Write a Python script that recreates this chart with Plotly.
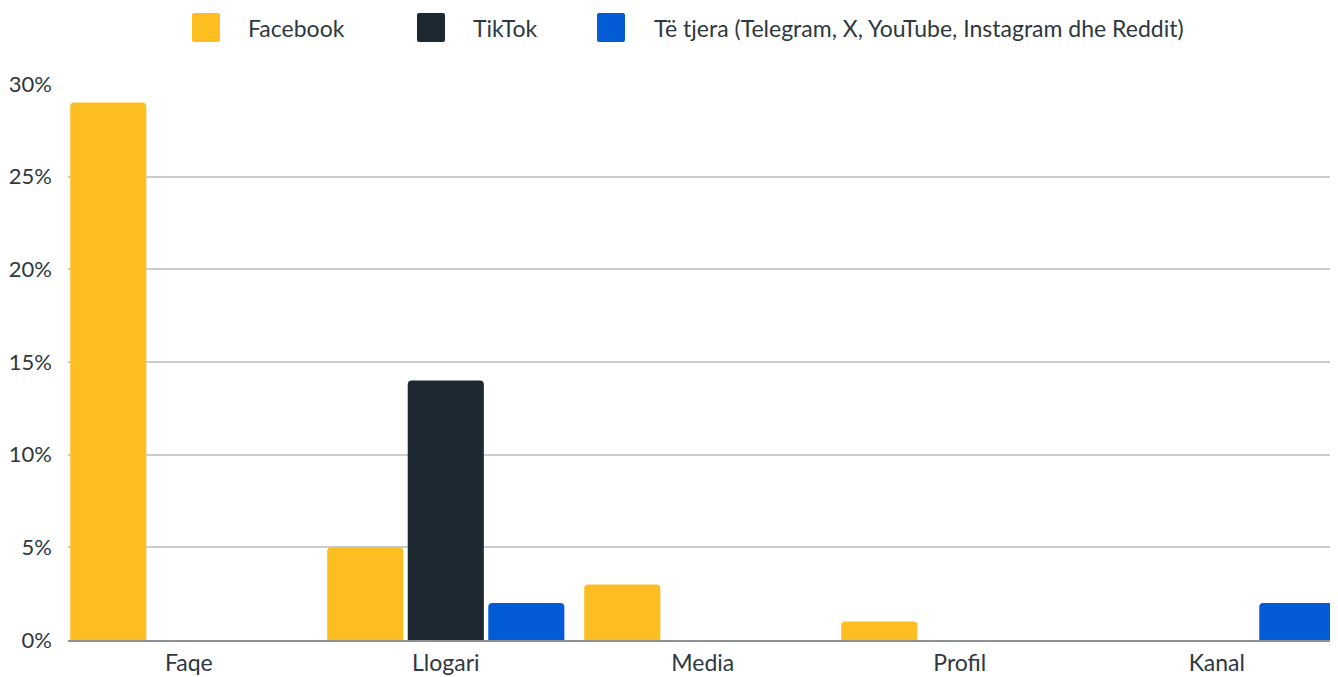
import plotly.graph_objects as go

categories = ["Faqe", "Llogari", "Media", "Profil", "Kanal"]
facebook = [29, 5, 3, 1, 0]
tiktok = [0, 14, 0, 0, 0]
others = [0, 2, 0, 0, 2]
series_names = ["Facebook", "TikTok", "Të tjera (Telegram, X, YouTube, Instagram dhe Reddit)"]
colors = ["#FDBE22", "#1E2830", "#035BD5"]
y_ticks = [0, 5, 10, 15, 20, 25, 30]
y_tick_labels = [f"{v}%" for v in y_ticks]

FONT = "Lato"
TXT = "#2E3840"

fig = go.Figure()
for name, vals, col in zip(series_names, [facebook, tiktok, others], colors):
    fig.add_trace(go.Bar(
        x=categories, y=vals, name=name,
        marker=dict(color=col, cornerradius=4, line=dict(width=0)),
        showlegend=False,
    ))

# page has an 8px body margin
OFF = 8
W, H = 1330, 669
ml, mr, mt, mb = 60, 3, 76, 37
pw, ph = W - ml - mr, H - mt - mb

def px(x):
    return (x - OFF - ml) / pw

def py(y):
    return (H - mb - (y - OFF)) / ph

# manual legend (page pixel anchors)
legend_items = [(192, 246), (417, 471), (597, 652)]
shapes = []
annotations = []
for (sx, tx), name, col in zip(legend_items, series_names, colors):
    x0, x1, y0, y1 = px(sx), px(sx + 28), py(42), py(13)
    r = 2.0
    rx, ry = r / pw, r / ph
    path = (f"M{x0+rx},{y0} L{x1-rx},{y0} Q{x1},{y0} {x1},{y0+ry} "
            f"L{x1},{y1-ry} Q{x1},{y1} {x1-rx},{y1} L{x0+rx},{y1} "
            f"Q{x0},{y1} {x0},{y1-ry} L{x0},{y0+ry} Q{x0},{y0} {x0+rx},{y0} Z")
    shapes.append(dict(type="path", xref="paper", yref="paper", path=path,
                       fillcolor=col, line=dict(width=0), layer="above"))
    annotations.append(dict(xref="paper", yref="paper", x=px(tx), y=py(27.5),
                            text=name, showarrow=False, xanchor="left", yanchor="middle",
                            font=dict(family=FONT, size=23, color=TXT)))

fig.update_layout(
    width=W, height=H,
    margin=dict(l=ml, r=mr, t=mt, b=mb, pad=0, autoexpand=False),
    paper_bgcolor="white", plot_bgcolor="white",
    barmode="group", bargap=0.06, bargroupgap=0.055,
    font=dict(family=FONT, size=23, color=TXT),
    shapes=shapes, annotations=annotations,
    showlegend=False,
)
fig.update_xaxes(
    range=[-0.47, 4.46], showgrid=False, automargin=False,
    showline=True, linecolor="#8C9196", linewidth=2,
    ticks="", ticklabelstandoff=1,
    tickfont=dict(family=FONT, size=23, color=TXT),
)
fig.update_yaxes(
    range=[0, 30], tickvals=y_ticks, ticktext=y_tick_labels, automargin=False,
    showgrid=True, gridcolor="#CACCCF", gridwidth=1.5,
    zeroline=False, showline=False, ticks="",
    ticklabelstandoff=15,
    tickfont=dict(family=FONT, size=22, color=TXT),
)

fig.write_html("out.html")
